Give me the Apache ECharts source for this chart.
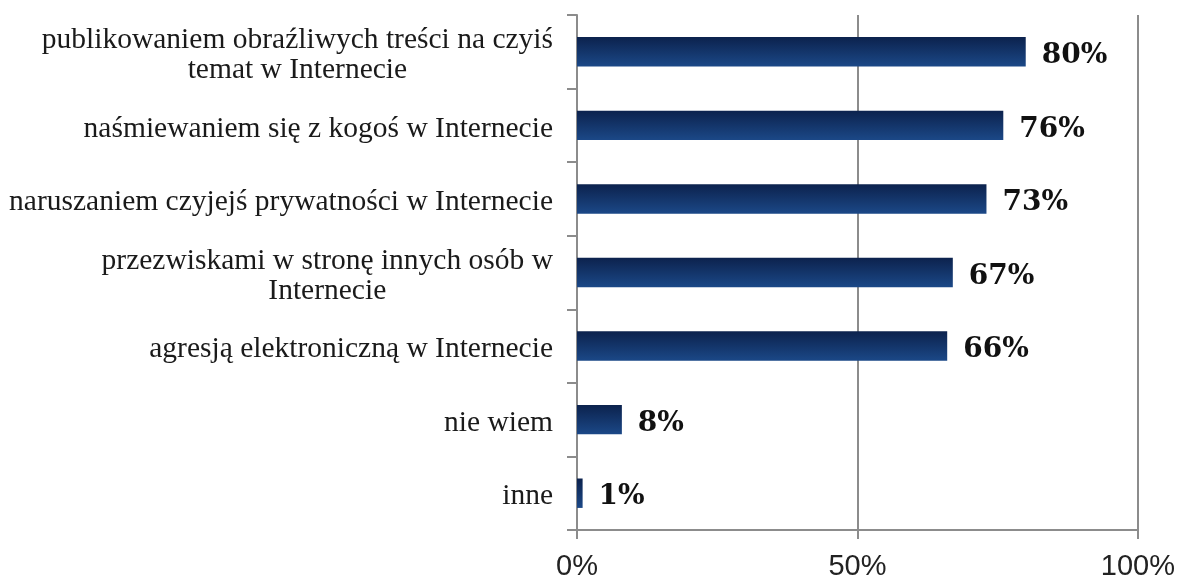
<!DOCTYPE html>
<html>
<head>
<meta charset="utf-8">
<script src="https://cdn.jsdelivr.net/npm/echarts@6/dist/echarts.min.js"></script>
<style>
  html, body { margin: 0; padding: 0; background: #fff; }
  #chart { width: 1178px; height: 581px; }
</style>
</head>
<body>
<div id="chart"></div>
<script>
  // categories bottom -> top (category axis starts at the bottom)
  var categories = [
    'inne',
    'nie wiem',
    'agresją elektroniczną w Internecie',
    'przezwiskami w stronę innych osób w\nInternecie',
    'naruszaniem czyjejś prywatności w Internecie',
    'naśmiewaniem się z kogoś w Internecie',
    'publikowaniem obraźliwych treści na czyiś\ntemat w Internecie'
  ];
  var values = [1, 8, 66, 67, 73, 76, 80];
  var xTicks = [0, 50, 100];

  var dom = document.getElementById('chart');
  var myChart = echarts.init(dom);

  var option = {
    animation: false,
    grid: {
      left: 577,
      right: 37,
      top: 15,
      bottom: 49
    },
    xAxis: {
      type: 'value',
      min: 0,
      max: 100,
      interval: 50,
      axisLine: { show: true, lineStyle: { color: '#8c8c8c', width: 2 } },
      axisTick: { show: true, length: 9, lineStyle: { color: '#8c8c8c', width: 2 } },
      splitLine: { show: true, lineStyle: { color: '#8c8c8c', width: 2 } },
      axisLabel: {
        margin: 22,
        fontFamily: 'Liberation Sans',
        fontSize: 29,
        color: '#222',
        formatter: function (v) {
          return xTicks.indexOf(v) >= 0 ? v + '%' : '';
        }
      }
    },
    yAxis: {
      type: 'category',
      data: categories,
      axisLine: { show: true, lineStyle: { color: '#8c8c8c', width: 2 } },
      axisTick: { show: true, length: 10, lineStyle: { color: '#8c8c8c', width: 2 } },
      axisLabel: {
        margin: 24,
        padding: [7, 0, 0, 0],
        fontFamily: 'Liberation Serif',
        fontSize: 29.5,
        lineHeight: 30,
        color: '#1a1a1a',
        formatter: function (v) {
          return v.split('\n').map(function (s) { return '{c|' + s + '}'; }).join('\n');
        },
        rich: {
          c: {
            align: 'center',
            fontFamily: 'Liberation Serif',
            fontSize: 29.5,
            lineHeight: 30,
            color: '#1a1a1a'
          }
        }
      }
    },
    series: [{
      type: 'bar',
      data: values,
      barCategoryGap: '60%',
      itemStyle: {
        color: new echarts.graphic.LinearGradient(0, 0, 0, 1, [
          { offset: 0, color: '#0c224d' },
          { offset: 1, color: '#1b4887' }
        ])
      },
      label: {
        show: true,
        position: 'right',
        distance: 16,
        offset: [0, 4],
        fontFamily: 'DejaVu Serif',
        fontWeight: 'bold',
        fontSize: 28,
        color: '#111',
        formatter: '{c}%'
      }
    }]
  };

  myChart.setOption(option, true);
</script>
</body>
</html>
